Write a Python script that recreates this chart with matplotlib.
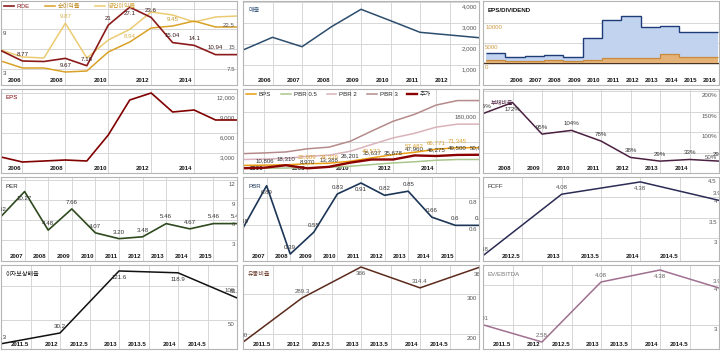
import numpy as np
import matplotlib
matplotlib.use('Agg')
import matplotlib.pyplot as plt
from matplotlib.transforms import ScaledTranslation

plt.rcParams['font.family'] = ['Liberation Sans', 'Noto Sans CJK KR', 'DejaVu Sans']

# ---------------- data ----------------
# Panel 1: ROE / margins
p1_years = [2005, 2006, 2007, 2008, 2009, 2010, 2011, 2012, 2013, 2014, 2015, 2016]
roe = [12.3, 8.77, 8.6, 9.67, 7.16, 21.0, 27.1, 23.6, 15.04, 14.1, 10.94, 10.94]
net_margin = [4.2, 3.15, 3.15, 2.55, 2.7, 5.55, 7.05, 9.15, 9.45, 10.2, 9.3, 9.3]
op_margin = [5.85, 4.8, 4.65, 9.87, 4.65, 7.35, 8.94, 11.55, 11.1, 10.05, 10.8, 10.95]
p1_xticks = [2006, 2008, 2010, 2012, 2014]
roe_pos = ['', 'a', '', 'b', 'a', 'a', 'b', 'a', 'a', 'a', 'a', '']
op_pos = ['', '', '', 'a', '', '', 'b', '', '', '', '', '']
net_pos = ['', '', '', '', '', '', '', '', 'a', '', '', '']

# Panel 2: sales
p2_years = [2005, 2006, 2007, 2008, 2009, 2010, 2011, 2012, 2013]
sales = [1714, 2319, 1871, 2824, 3652, 3110, 2557, 2429, 2300]
p2_xticks = [2006, 2007, 2008, 2009, 2010, 2011, 2012]

# Panel 3: EPS / dividend (stepped)
p3_years = [2005, 2006, 2007, 2008, 2009, 2010, 2011, 2012, 2013, 2014, 2015, 2016]
eps_step = [2400, 1400, 1750, 2000, 1600, 6300, 10750, 11750, 8900, 9250, 7750, 7750]
dividend = [650, 600, 600, 650, 550, 800, 1250, 1250, 1250, 2250, 1500, 1500]
p3_xticks = [2006, 2007, 2008, 2009, 2010, 2011, 2012, 2013, 2014, 2015, 2016]

# Panel 4: EPS
p4_years = [2005, 2006, 2007, 2008, 2009, 2010, 2011, 2012, 2013, 2014, 2015, 2016]
eps = [2400, 1650, 1800, 1950, 1800, 5700, 10950, 12000, 9150, 9450, 7950, 7950]
p4_xticks = [2006, 2008, 2010, 2012, 2014]

# Panel 5: BPS / PBR bands / price
p5_years = [2005, 2006, 2007, 2008, 2009, 2010, 2011, 2012, 2013, 2014, 2015, 2016]
bps = [17800, 18500, 19500, 22689, 24339, 30300, 40573, 50500, 57482, 66771, 71345, 71345]
pbr05 = [8900, 9250, 9750, 11345, 12170, 15150, 20287, 25250, 28741, 33386, 35673, 35673]
pbr2 = [35600, 37000, 39000, 45378, 48678, 60600, 81146, 101000, 114964, 133542, 142690, 142690]
pbr3 = [53400, 55500, 58500, 68067, 73017, 90900, 121719, 151500, 172446, 200313, 214035, 214035]
price = [9364, 10806, 18310, 8970, 13388, 26201, 35637, 35678, 47960, 46275, 49500, 50000]
p5_xticks = [2006, 2008, 2010, 2012, 2014]
price_pos = ['', 'a', 'a', 'a', 'a', 'a', 'a', 'a', 'a', 'a', 'a', 'a']
bps_pos = ['', '', '', 'a', 'a', '', 'a', '', 'a', 'a', 'a', '']

# Panel 6: debt ratio
p6_years = [2007, 2008, 2009, 2010, 2011, 2012, 2013, 2014, 2015]
debt = [145, 172, 95, 104, 78, 38, 29, 33, 29]
p6_xticks = [2008, 2009, 2010, 2011, 2012, 2013, 2014]
debt_pos = ['a', 'b', 'a', 'a', 'a', 'a', 'a', 'a', 'a']

# Panel 7: PER
p7_years = [2006, 2007, 2008, 2009, 2010, 2011, 2012, 2013, 2014, 2015, 2016]
per = [6.52, 10.27, 4.48, 7.66, 4.07, 3.20, 3.48, 5.46, 4.67, 5.46, 5.46]
p7_xticks = [2007, 2008, 2009, 2010, 2011, 2012, 2013, 2014, 2015]
per_pos = ['a', 'b', 'a', 'a', 'a', 'a', 'a', 'a', 'a', 'a', 'a']

# Panel 8: PBR
p8_years = [2006, 2007, 2008, 2009, 2010, 2011, 2012, 2013, 2014, 2015, 2016]
pbr = [0.58, 0.89, 0.39, 0.55, 0.83, 0.91, 0.82, 0.85, 0.66, 0.60, 0.60]
p8_xticks = [2007, 2008, 2009, 2010, 2011, 2012, 2013, 2014, 2015]
pbr_pos = ['a', 'b', 'a', 'a', 'a', 'b', 'a', 'a', 'a', 'a', 'a']

# Panel 9: FCFF
p9_years = [2012, 2013, 2014, 2015]
fcff = [2.58, 4.08, 4.38, 3.93]
p9_xticks = [2012.5, 2013, 2013.5, 2014, 2014.5]
fcff_pos = ['a', 'a', 'b', 'a']

# Panel 10-12
p10_years = [2011, 2012, 2013, 2014, 2015]
icr = [14.3, 30.2, 121.6, 118.9, 81.82]
icr_pos = ['a', 'a', 'b', 'b', 'a']
current = [180, 289.3, 366, 314.4, 365]
cur_pos = ['a', 'a', 'b', 'a', 'b']
ev_ebitda = [3.01, 2.58, 4.08, 4.38, 3.93]
ev_pos = ['a', 'a', 'a', 'b', 'a']
p10_xticks = [2011.5, 2012, 2012.5, 2013, 2013.5, 2014, 2014.5]

# ---------------- style ----------------
FS = 4.4
GRID = '#d6d6d6'
SPINE = '#b5b5b5'
LBL = '#333333'
FW, FH = 720, 351
COLS = [1, 243, 483]
ROWS = [1, 89, 177, 265]
PW, PH = 236, 84

fig = plt.figure(figsize=(7.2, 3.51), dpi=100)
fig.patch.set_facecolor('white')


def make_ax(r, c):
    x0, y0 = COLS[c], ROWS[r]
    ax = fig.add_axes([x0 / FW, 1 - (y0 + PH) / FH, PW / FW, PH / FH])
    for s in ax.spines.values():
        s.set_color(SPINE)
        s.set_linewidth(0.8)
    ax.set_axisbelow(True)
    return ax


def setup_x(ax, xlim, ticks, grid=True):
    ax.set_xlim(*xlim)
    ax.set_xticks(ticks)
    ax.set_xticklabels([f'{t:g}' for t in ticks])
    ax.tick_params(axis='x', direction='in', length=0, pad=-4.8,
                   labelsize=FS, labelcolor='#1a1a1a')
    if grid:
        ax.grid(axis='x', color=GRID, lw=0.7)


def finish_x(ax, dx=-1.5):
    off = ScaledTranslation(dx / 100, 0, fig.dpi_scale_trans)
    for lb in ax.get_xticklabels():
        lb.set_ha('right')
        lb.set_fontweight('bold')
        lb.set_transform(lb.get_transform() + off)


def setup_y(ax, ylim, ticks, labels, side='right', color='#555555', grid=True):
    ax.set_ylim(*ylim)
    if side == 'right':
        ax.yaxis.tick_right()
    else:
        ax.yaxis.tick_left()
    ax.set_yticks(ticks)
    ax.set_yticklabels(labels)
    ax.tick_params(axis='y', direction='in', length=0, pad=-1.5,
                   labelsize=FS, labelcolor=color)
    if grid:
        ax.grid(axis='y', color=GRID, lw=0.7)
    off = ScaledTranslation(0, -4.5 / 100, fig.dpi_scale_trans)
    for lb in ax.get_yticklabels():
        lb.set_ha('right' if side == 'right' else 'left')
        lb.set_va('center')
        lb.set_transform(lb.get_transform() + off)


def title(ax, text, color, bold=False, ypx=9, xpx=5):
    ax.text(xpx / PW, 1 - ypx / PH, text, transform=ax.transAxes, fontsize=FS,
            color=color, fontweight='bold' if bold else 'normal',
            ha='left', va='center')


def annotate(ax, xs, ys, pos, fmt, color=LBL, dy=3.0):
    for x, y, p in zip(xs, ys, pos):
        if p not in ('a', 'b'):
            continue
        off = dy if p == 'a' else -dy
        t = ax.annotate(fmt(y), (x, y), xytext=(0, off), textcoords='offset points',
                        ha='center', va='bottom' if p == 'a' else 'top',
                        fontsize=FS, color=color, annotation_clip=False)
        t.set_clip_path(ax.patch)


fmt_g = lambda v: f'{v:g}'
fmt_2 = lambda v: f'{v:.2f}'
fmt_c = lambda v: f'{v:,}'
fmt_p = lambda v: f'{v}%'

# colors
C_ROE = '#8b1a1a'
C_NET = '#d9a126'
C_OP = '#ebcb72'

# ---- Panel 1 ----
ax1 = make_ax(0, 0)
l_op, = ax1.plot(p1_years, op_margin, color=C_OP, lw=1.1)
l_net, = ax1.plot(p1_years, net_margin, color=C_NET, lw=1.1)
setup_x(ax1, (2005, 2016), p1_xticks)
setup_y(ax1, (0.6, 13.2), [3, 6, 9, 12], ['3', '', '9', ''], side='left', color='#444444')
ax1b = ax1.twinx()
for s in ax1b.spines.values():
    s.set_visible(False)
l_roe, = ax1b.plot(p1_years, roe, color=C_ROE, lw=1.2)
setup_y(ax1b, (0.6, 29.2), [7.5, 15, 22.5], ['7.5', '15', '22.5'], side='right', grid=False)
annotate(ax1b, p1_years, roe, roe_pos, fmt_g, color='#3a1a1a')
annotate(ax1, p1_years, op_margin, op_pos, fmt_g, color='#d8b450')
annotate(ax1, p1_years, net_margin, net_pos, fmt_g, color='#c89a30')
leg = ax1b.legend([l_roe, l_net, l_op], ['ROE', '순이익률', '영업이익률'], loc='upper left',
                  bbox_to_anchor=(0, 1), ncol=3, frameon=False, fontsize=FS,
                  handlelength=1.6, handletextpad=0.5, columnspacing=2.4,
                  borderaxespad=0.3, borderpad=0.2)
for t, c in zip(leg.get_texts(), [C_ROE, '#c08a20', '#d4a640']):
    t.set_color(c)
finish_x(ax1)

# ---- Panel 2 ----
ax2 = make_ax(0, 1)
ax2.plot(p2_years, sales, color='#2c4d6e', lw=1.1)
setup_x(ax2, (2005, 2013), p2_xticks)
setup_y(ax2, (48, 4048), [1000, 2000, 3000, 4000], ['1,000', '2,000', '3,000', '4,000'])
title(ax2, '매출', '#3a5a80')
finish_x(ax2)

# ---- Panel 3 ----
ax3 = make_ax(0, 2)
edges3 = np.append(np.array(p3_years) - 1, p3_years[-1])
ax3.stairs(eps_step, edges3, fill=True, color='#c2d3f0', baseline=0)
ax3.stairs(eps_step, edges3, color='#1e3c78', lw=1.0, baseline=None)
ax3.stairs(dividend, edges3, fill=True, color='#e4b176', baseline=0)
ax3.stairs(dividend, edges3, color='#c98a3c', lw=0.9, baseline=None)
setup_x(ax3, (2003.85, 2016.05), p3_xticks, grid=False)
setup_y(ax3, (-5500, 15500), [0, 5000, 10000], ['0', '5000', '10000'], side='left', color='#d09a45')
gl = ax3.get_ygridlines()
gl[0].set_color('#4a3525')
gl[0].set_linewidth(1.0)
title(ax3, 'EPS/DIVIDEND', '#111111', bold=True)
finish_x(ax3)

# ---- Panel 4 ----
ax4 = make_ax(1, 0)
ax4.plot(p4_years, eps, color='#800000', lw=1.2)
setup_x(ax4, (2005, 2016), p4_xticks)
setup_y(ax4, (0, 12600), [3000, 6000, 9000, 12000], ['3,000', '6,000', '9,000', '12,000'])
title(ax4, 'EPS', '#800000')
finish_x(ax4)

# ---- Panel 5 ----
ax5 = make_ax(1, 1)
h_pbr3, = ax5.plot(p5_years, pbr3, color='#b58a8a', lw=1.1)
h_pbr2, = ax5.plot(p5_years, pbr2, color='#d9b3bb', lw=1.1)
h_pbr05, = ax5.plot(p5_years, pbr05, color='#a9c68c', lw=1.1)
h_bps, = ax5.plot(p5_years, bps, color='#e89d12', lw=1.1)
h_price, = ax5.plot(p5_years, price, color='#8b0000', lw=1.7)
setup_x(ax5, (2005, 2016), p5_xticks)
setup_y(ax5, (-5200, 249000), [90000, 180000], ['', '180,000'])
annotate(ax5, p5_years, price, price_pos, fmt_c, color='#333333')
annotate(ax5, p5_years, bps, bps_pos, fmt_c, color='#d9a030')
leg5 = ax5.legend([h_bps, h_pbr05, h_pbr2, h_pbr3, h_price],
                  ['BPS', 'PBR 0.5', 'PBR 2', 'PBR 3', '주가'], loc='upper left',
                  bbox_to_anchor=(0, 1), ncol=5, frameon=False, fontsize=FS,
                  handlelength=1.6, handletextpad=0.5, columnspacing=1.6,
                  borderaxespad=0.3, borderpad=0.2)
for t in leg5.get_texts():
    t.set_color('#222222')
finish_x(ax5)

# ---- Panel 6 ----
ax6 = make_ax(1, 2)
ax6.plot(p6_years, debt, color='#4a2040', lw=1.1)
setup_x(ax6, (2007, 2015), p6_xticks)
setup_y(ax6, (0, 205), [50, 100, 150, 200], ['50%', '100%', '150%', '200%'])
annotate(ax6, p6_years, debt, debt_pos, fmt_p)
title(ax6, '부채비율', '#4a2040', ypx=14, xpx=8)
finish_x(ax6)

# ---- Panel 7 ----
ax7 = make_ax(2, 0)
ax7.plot(p7_years, per, color='#2e4a1e', lw=1.2)
setup_x(ax7, (2006, 2016), p7_xticks)
setup_y(ax7, (-0.15, 12.45), [3, 6, 9, 12], ['3', '6', '9', '12'])
annotate(ax7, p7_years, per, per_pos, fmt_2)
title(ax7, 'PER', '#222222')
finish_x(ax7)

# ---- Panel 8 ----
ax8 = make_ax(2, 1)
ax8.plot(p8_years, pbr, color='#1c3557', lw=1.2)
setup_x(ax8, (2006, 2016), p8_xticks)
setup_y(ax8, (0.339, 0.954), [0.6, 0.8], ['0.6', '0.8'])
annotate(ax8, p8_years, pbr, pbr_pos, fmt_g)
title(ax8, 'PBR', '#1c3557')
finish_x(ax8)

# ---- Panel 9 ----
ax9 = make_ax(2, 2)
ax9.plot(p9_years, fcff, color='#2b2b55', lw=1.1)
setup_x(ax9, (2012, 2015), p9_xticks)
setup_y(ax9, (2.45, 4.5), [3, 3.5, 4, 4.5], ['3', '3.5', '4', '4.5'])
annotate(ax9, p9_years, fcff, fcff_pos, fmt_g, color='#555555')
title(ax9, 'FCFF', '#333333')
finish_x(ax9)

# ---- Panel 10 ----
ax10 = make_ax(3, 0)
ax10.plot(p10_years, icr, color='#111111', lw=1.1)
setup_x(ax10, (2011, 2015), p10_xticks)
setup_y(ax10, (6.6, 130.4), [50, 100], ['50', '100'])
annotate(ax10, p10_years, icr, icr_pos, fmt_g)
title(ax10, '이자보상배율', '#222222')
finish_x(ax10)

# ---- Panel 11 ----
ax11 = make_ax(3, 1)
ax11.plot(p10_years, current, color='#5c2a1c', lw=1.1)
setup_x(ax11, (2011, 2015), p10_xticks)
setup_y(ax11, (163, 371), [200, 300], ['200', '300'])
annotate(ax11, p10_years, current, cur_pos, fmt_g, color='#555555')
title(ax11, '유동비율', '#6b3a2a')
finish_x(ax11)

# ---- Panel 12 ----
ax12 = make_ax(3, 2)
ax12.plot(p10_years, ev_ebitda, color='#a07090', lw=1.1)
setup_x(ax12, (2011, 2015), p10_xticks)
setup_y(ax12, (2.405, 4.505), [3, 4], ['3', '4'])
annotate(ax12, p10_years, ev_ebitda, ev_pos, fmt_g, color='#666666')
title(ax12, 'EV/EBITDA', '#777777')
finish_x(ax12)

fig.savefig('out.png', dpi=100, facecolor='white')
